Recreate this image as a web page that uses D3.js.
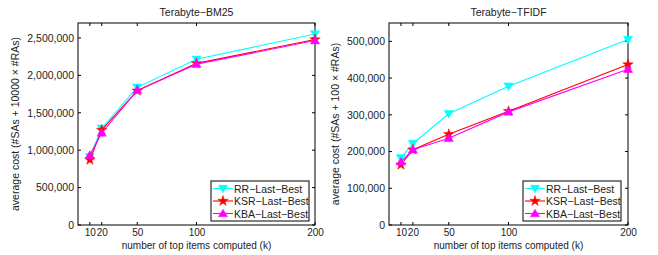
<!DOCTYPE html>
<html><head><meta charset="utf-8">
<script src="https://cdn.jsdelivr.net/npm/d3@7"></script>
<style>body{margin:0;background:#fff}svg text{font-family:"Liberation Sans",Arial,sans-serif;fill:#222}</style>
</head><body><svg id="c" width="658" height="255"></svg>
<script>
const kValues = [10, 20, 50, 100, 200];
const xTicks = [10, 20, 50, 100, 200];
const seriesNames = ["RR\u2212Last\u2212Best", "KSR\u2212Last\u2212Best", "KBA\u2212Last\u2212Best"];
const bm25RR  = [913000, 1293000, 1840000, 2215000, 2553000];
const bm25KSR = [870000, 1270000, 1795000, 2160000, 2480000];
const bm25KBA = [935000, 1230000, 1800000, 2150000, 2465000];
const tfidfRR  = [183000, 222000, 303000, 378000, 505000];
const tfidfKSR = [164000, 205000, 247000, 310000, 437000];
const tfidfKBA = [172000, 205000, 236000, 308000, 424000];
const bm25YTicks = [0, 500000, 1000000, 1500000, 2000000, 2500000];
const tfidfYTicks = [0, 100000, 200000, 300000, 400000, 500000];
const colors = ["#00ffff", "#ff0000", "#ff00ff"];
const markers = ["tri-down", "star", "tri-up"];

const svg = d3.select("#c");
const fmt = d3.format(",");

function markerPath(type) {
  if (type === "star") return d3.symbol(d3.symbolStar, 34)();
  const h = 4.6;
  if (type === "tri-down") return `M${-h},${-h*0.7}L${h},${-h*0.7}L0,${h*0.95}Z`;
  return `M${-h},${h*0.7}L${h},${h*0.7}L0,${-h*0.95}Z`;
}

function panel(opt) {
  const {x0, x1, y0, y1, yMax, yTicks, series, title, ylabel, legX} = opt;
  const g = svg.append("g");
  const x = d3.scaleLinear().domain([0, 200]).range([x0, x1]);
  const y = d3.scaleLinear().domain([0, yMax]).range([y1, y0]);
  g.append("rect").attr("x", x0).attr("y", y0).attr("width", x1 - x0).attr("height", y1 - y0)
    .attr("fill", "#fff").attr("stroke", "#000").attr("stroke-width", 1);
  xTicks.forEach(t => {
    g.append("line").attr("x1", x(t)).attr("x2", x(t)).attr("y1", y1).attr("y2", y1 - 3).attr("stroke", "#000");
    g.append("line").attr("x1", x(t)).attr("x2", x(t)).attr("y1", y0).attr("y2", y0 + 3).attr("stroke", "#000");
  });
  const xa = d3.axisBottom(x).tickValues(xTicks).tickSize(0).tickPadding(4).tickFormat(d3.format("d"));
  g.append("g").attr("transform", `translate(0,${y1})`).call(xa)
    .call(a => a.select(".domain").remove())
    .call(a => a.selectAll("text").attr("font-size", 10).attr("fill", "#222").attr("font-family", "Liberation Sans, Arial, sans-serif"));
  yTicks.forEach(t => {
    g.append("line").attr("x1", x0).attr("x2", x0 + 3).attr("y1", y(t)).attr("y2", y(t)).attr("stroke", "#000");
    g.append("line").attr("x1", x1).attr("x2", x1 - 3).attr("y1", y(t)).attr("y2", y(t)).attr("stroke", "#000");
  });
  const ya = d3.axisLeft(y).tickValues(yTicks).tickSize(0).tickPadding(4).tickFormat(fmt);
  g.append("g").attr("transform", `translate(${x0},0)`).call(ya)
    .call(a => a.select(".domain").remove())
    .call(a => a.selectAll("text").attr("font-size", 10.5).attr("fill", "#222").attr("font-family", "Liberation Sans, Arial, sans-serif"));
  g.append("text").attr("x", (x0 + x1) / 2).attr("y", y0 - 7).attr("text-anchor", "middle").attr("font-size", 10.5).text(title);
  g.append("text").attr("x", (x0 + x1) / 2).attr("y", 249).attr("text-anchor", "middle").attr("font-size", 10).text("number of top items computed (k)");
  g.append("text").attr("transform", `translate(${opt.ylx},${(y0 + y1) / 2}) rotate(-90)`).attr("text-anchor", "middle").attr("font-size", 10.5).text(ylabel);

  const line = d3.line().x((d, i) => x(kValues[i])).y(d => y(d));
  series.forEach((vals, si) => {
    g.append("path").attr("d", line(vals)).attr("fill", "none").attr("stroke", colors[si]).attr("stroke-width", 1.1);
    vals.forEach((v, i) => {
      g.append("path").attr("d", markerPath(markers[si])).attr("transform", `translate(${x(kValues[i])},${y(v)})`)
        .attr("fill", colors[si]).attr("stroke", colors[si]).attr("stroke-width", 0.5);
    });
  });
  const lg = g.append("g");
  lg.append("rect").attr("x", legX).attr("y", 181).attr("width", 98).attr("height", 40).attr("fill", "#fff").attr("stroke", "#000").attr("stroke-width", 1);
  seriesNames.forEach((n, i) => {
    const ly = 188.5 + i * 12.5;
    lg.append("line").attr("x1", legX + 2).attr("x2", legX + 22).attr("y1", ly).attr("y2", ly).attr("stroke", colors[i]).attr("stroke-width", 1.1);
    lg.append("path").attr("d", markerPath(markers[i])).attr("transform", `translate(${legX + 12},${ly})`).attr("fill", colors[i]).attr("stroke", colors[i]).attr("stroke-width", 0.5);
    lg.append("text").attr("x", legX + 23).attr("y", ly + 4).attr("font-size", 10.5).text(n);
  });
}

panel({x0: 78, x1: 315, y0: 23, y1: 225, yMax: 2700000, yTicks: bm25YTicks,
  series: [bm25RR, bm25KSR, bm25KBA], title: "Terabyte\u2212BM25",
  ylabel: "average cost (#SAs + 10000 \u00d7 #RAs)", ylx: 19, legX: 211});
panel({x0: 389, x1: 628, y0: 23, y1: 225, yMax: 550000, yTicks: tfidfYTicks,
  series: [tfidfRR, tfidfKSR, tfidfKBA], title: "Terabyte\u2212TFIDF",
  ylabel: "average cost (#SAs + 100 \u00d7 #RAs)", ylx: 339, legX: 523});
</script></body></html>
